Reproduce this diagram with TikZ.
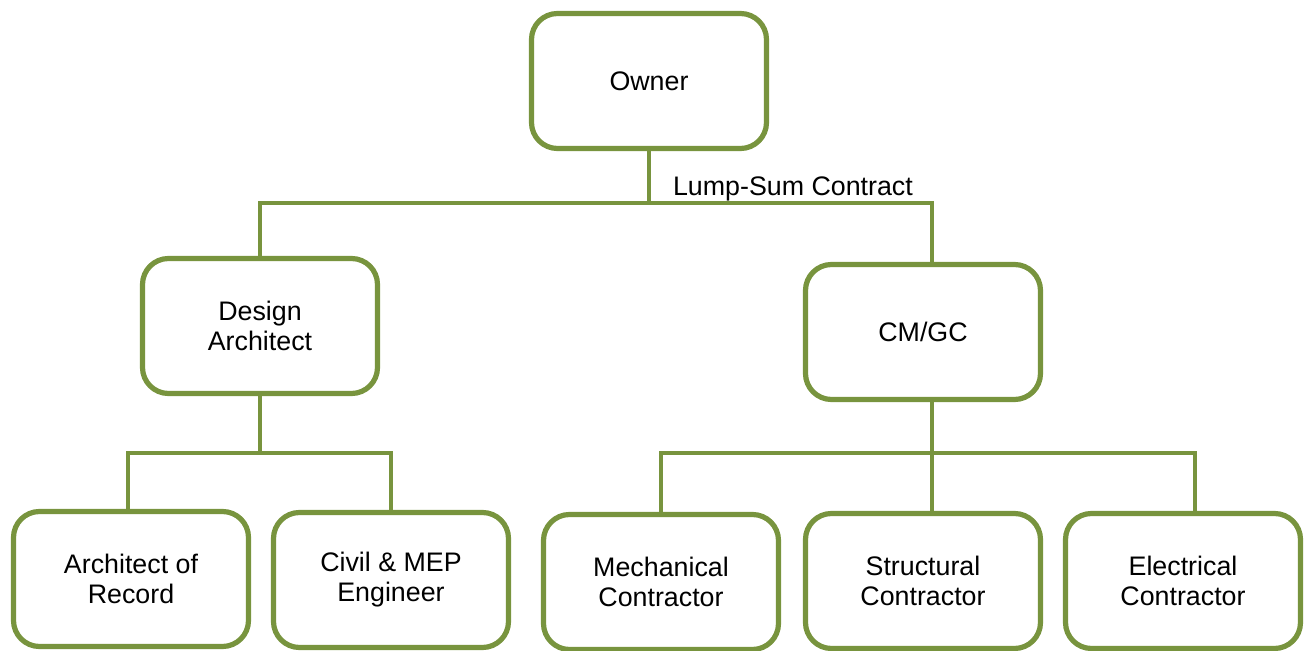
\documentclass[tikz,border=0pt]{standalone}
\usepackage{fontspec}
\setmainfont{Liberation Sans}
\usetikzlibrary{positioning}
\usepackage{xcolor}
\definecolor{leaf}{RGB}{120,148,62}

\begin{document}
\begin{tikzpicture}[x=0.5pt, y=-0.5pt,
    role/.style={draw=leaf, line width=2.6pt, rounded corners=13pt, fill=white,
      minimum width=117.5pt, minimum height=67.5pt, align=center,
      font=\fontsize{13.4}{15}\selectfont},
    link/.style={draw=leaf, line width=2pt}]
  \useasboundingbox (0,0) rectangle (1307,651);

  \node[role] (owner) at (649,81) {Owner};
  \node[role] (design) at (260,326) {Design\\Architect};
  \node[role] (cmgc) at (923,332) {CM/GC};

  \node[role] (record) at (131,579) {Architect of\\Record};
  \node[role] (civil) at (391,580) {Civil \& MEP\\Engineer};
  \node[role] (mech) at (661,582) {Mechanical\\Contractor};
  \node[role] (struct) at (923,581) {Structural\\Contractor};
  \node[role] (elec) at (1183,581) {Electrical\\Contractor};

  \coordinate (ownerbus) at (649,203);
  \coordinate (designbus) at (260,453);
  \coordinate (cmbus) at (932,453);

  \draw[link] (owner.south) -- (ownerbus);
  \draw[link] (design.north) |- (ownerbus) -| ([xshift=4.5pt]cmgc.north);
  \node[anchor=base west, font=\fontsize{13.4}{15}\selectfont] (contract) at (666,196) {Lump-Sum Contract};

  \draw[link] (design.south) -- (designbus);
  \draw[link] ([xshift=-1.5pt]record.north) |- (designbus) -| (civil.north);

  \draw[link] ([xshift=4.5pt]cmgc.south) -- ([xshift=4.5pt]struct.north);
  \draw[link] (mech.north) |- (cmbus) -| ([xshift=6pt]elec.north);
\end{tikzpicture}
\end{document}
